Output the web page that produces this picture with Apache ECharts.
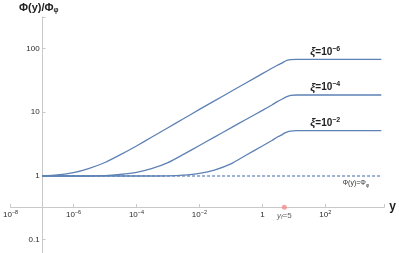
<!DOCTYPE html>
<html><head><meta charset="utf-8">
<script src="https://cdn.jsdelivr.net/npm/echarts@6/dist/echarts.min.js"></script>
<style>html,body{margin:0;padding:0;background:#fff}#c{width:399px;height:253px}</style>
</head><body><div id="c"></div>
<script>
// x values (y variable) shared by all curves
const xValues = [1e-7, 3e-7, 1e-6, 3e-6, 1e-5, 3e-5, 1e-4, 3e-4, 1e-3, 3e-3, 1e-2, 0.03, 0.1, 0.3, 1, 2, 3, 4, 5, 6, 8, 12, 100, 6000];
// Phi(y)/Phi_phi for each xi
const xi6 = [1.00, 1.04, 1.13, 1.31, 1.63, 2.14, 2.96, 4.05, 5.71, 7.83, 11.1, 15.1, 21.2, 28.8, 40.4, 49.1, 54.8, 58.6, 62.4, 65.3, 67.3, 67.9, 67.9, 67.9];
const xi4 = [1.00, 1.00, 1.00, 1.00, 1.01, 1.055, 1.14, 1.30, 1.62, 2.16, 3.01, 4.08, 5.69, 7.71, 10.7, 13.0, 14.7, 15.85, 16.8, 17.6, 18.4, 18.7, 18.7, 18.7];
const xi2 = [1.00, 1.00, 1.00, 1.00, 1.00, 1.00, 1.00, 1.00, 1.005, 1.03, 1.10, 1.24, 1.55, 2.12, 2.96, 3.61, 4.09, 4.37, 4.70, 4.90, 5.07, 5.14, 5.14, 5.14];
const seriesNames = ['ξ=10⁻⁶', 'ξ=10⁻⁴', 'ξ=10⁻²'];
const seriesLabels = ['{i|ξ}{b|=10}{s|−6}', '{i|ξ}{b|=10}{s|−4}', '{i|ξ}{b|=10}{s|−2}'];
const labelAtX = 100;
// reference line Phi(y)=Phi_phi
const refX = [1e-7, 6000];
const refY = [1, 1];
const refLabelX = 930;
// freeze-out point
const yfX = 5;
const yfY = 0.323;
// tick labels
const xTickPowers = [-8, -6, -4, -2, 0, 2];
const xTickLabels = ['{b|10}{s|−8}', '{b|10}{s|−6}', '{b|10}{s|−4}', '{b|10}{s|−2}', '{b|1}', '{b|10}{s|2}'];
const yTickPowers = [2, 1, 0, -1];
const yTickLabels = ['100', '10', '1', '0.1'];

const FONT = 'Liberation Sans';
const BLUE = '#5E81B5';
const AXIS = '#c9c9c9';

function powLabel(v, powers, labels) {
  const l = Math.log10(v);
  const r = Math.round(l);
  if (Math.abs(l - r) > 1e-6) return '';
  const i = powers.indexOf(r);
  return i < 0 ? '' : labels[i];
}

const curves = [xi6, xi4, xi2].map((ys, k) => ({
  type: 'line',
  name: seriesNames[k],
  smooth: 0.2,
  symbol: 'none',
  z: 3,
  lineStyle: { color: BLUE, width: 1.3 },
  data: xValues.map((x, i) => [x, ys[i]]),
  markPoint: {
    symbol: 'circle', symbolSize: 0,
    data: [{ coord: [labelAtX, ys[xValues.indexOf(labelAtX)]] }],
    label: {
      show: true, position: 'top', distance: 1,
      formatter: seriesLabels[k],
      rich: {
        i: { fontFamily: FONT, fontSize: 11, fontStyle: 'italic', fontWeight: 'bold', color: '#222', lineHeight: 13 },
        b: { fontFamily: FONT, fontSize: 10, fontWeight: 'bold', color: '#222', lineHeight: 13 },
        s: { fontFamily: FONT, fontSize: 7, fontWeight: 'bold', color: '#222', lineHeight: 6, verticalAlign: 'top' }
      }
    }
  }
}));

const chart = echarts.init(document.getElementById('c'));
chart.setOption({
  animation: false,
  backgroundColor: '#fff',
  title: {
    left: 19, top: 1, padding: 0,
    text: '{a|Φ(y)/Φ}{s|φ}',
    textStyle: {
      rich: {
        a: { fontFamily: FONT, fontSize: 11, fontWeight: 'bold', color: '#222', lineHeight: 13 },
        s: { fontFamily: FONT, fontSize: 7, fontWeight: 'bold', color: '#222', lineHeight: 6, verticalAlign: 'bottom' }
      }
    }
  },
  grid: { left: 8, right: 11, top: 17, bottom: 0, containLabel: false },
  xAxis: {
    type: 'log', logBase: 10,
    min: 1e-8, max: Math.pow(10, 3.875),
    interval: 2,
    offset: -46,
    name: 'y', nameLocation: 'end', nameGap: 5,
    nameTextStyle: { fontFamily: FONT, fontSize: 12, fontWeight: 'bold', color: '#222', verticalAlign: 'middle' },
    axisLine: { onZero: false, lineStyle: { color: AXIS, width: 1 } },
    axisTick: { show: true, inside: true, length: 3, lineStyle: { color: AXIS } },
    splitLine: { show: false },
    axisLabel: {
      margin: 2, showMinLabel: true, showMaxLabel: true,
      formatter: v => powLabel(v, xTickPowers, xTickLabels),
      rich: {
        b: { fontFamily: FONT, fontSize: 8, color: '#2a2a2a', lineHeight: 11 },
        s: { fontFamily: FONT, fontSize: 5.5, color: '#2a2a2a', lineHeight: 6, verticalAlign: 'top' }
      }
    }
  },
  yAxis: {
    type: 'log', logBase: 10,
    min: Math.pow(10, -1.209), max: Math.pow(10, 2.496),
    offset: -32,
    axisLine: { onZero: false, lineStyle: { color: AXIS, width: 1 } },
    axisTick: { show: true, inside: true, length: 3, lineStyle: { color: AXIS } },
    splitLine: { show: false },
    axisLabel: {
      margin: 3, fontFamily: FONT, fontSize: 8, color: '#2a2a2a',
      formatter: v => powLabel(v, yTickPowers, yTickLabels)
    }
  },
  series: [
    {
      type: 'line', symbol: 'none', z: 2,
      lineStyle: { color: '#7C99C8', width: 1.3, type: [3, 2] },
      data: refX.map((x, i) => [x, refY[i]]),
      markPoint: {
        symbol: 'circle', symbolSize: 0,
        data: [{ coord: [refLabelX, 1] }],
        label: {
          show: true, position: 'bottom', distance: 2,
          formatter: '{a|Φ(y)=Φ}{s|φ}',
          rich: {
            a: { fontFamily: FONT, fontSize: 7, color: '#333', lineHeight: 10 },
            s: { fontFamily: FONT, fontSize: 5, color: '#333', lineHeight: 5, verticalAlign: 'bottom' }
          }
        }
      }
    },
    ...curves,
    {
      type: 'scatter', symbol: 'circle', symbolSize: 5, z: 5,
      itemStyle: { color: '#F28B8B' },
      data: [[yfX, yfY]],
      label: {
        show: true, position: 'bottom', distance: 1,
        formatter: '{i|y}{s|f}{n|=5}',
        rich: {
          i: { fontFamily: FONT, fontSize: 8, fontStyle: 'italic', color: '#333', lineHeight: 10 },
          s: { fontFamily: FONT, fontSize: 5.5, fontStyle: 'italic', color: '#333', lineHeight: 5, verticalAlign: 'bottom' },
          n: { fontFamily: FONT, fontSize: 8, color: '#333', lineHeight: 10 }
        }
      }
    }
  ]
});
</script>
</body></html>
